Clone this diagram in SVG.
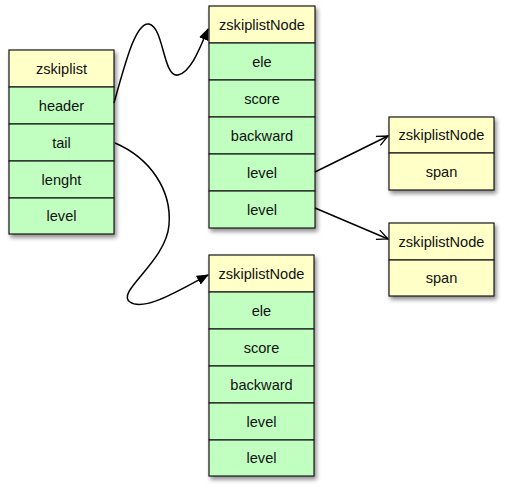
<svg xmlns="http://www.w3.org/2000/svg" width="509" height="493" viewBox="0 0 509 493">
<defs>
<filter id="sh" x="-10%" y="-10%" width="130%" height="130%">
<feDropShadow dx="2" dy="3" stdDeviation="2" flood-color="#000" flood-opacity="0.45"/>
</filter>
<marker id="fill" markerWidth="12" markerHeight="10" refX="11" refY="5" orient="auto" markerUnits="userSpaceOnUse">
<path d="M0,0 L12,5 L0,10 Z" fill="#000"/>
</marker>
<marker id="open" markerWidth="14" markerHeight="12" refX="12" refY="6" orient="auto" markerUnits="userSpaceOnUse">
<path d="M1,1 L12,6 L1,11" fill="none" stroke="#000" stroke-width="1.3"/>
</marker>
</defs>
<style>
.y{fill:#FFFFC8;stroke:#1a1a1a;stroke-width:1.2}
.g{fill:#C0FFC0;stroke:#1a1a1a;stroke-width:1.2}
.box{filter:url(#sh)}
text{font-family:"Liberation Sans",Arial,sans-serif;font-size:14.6px;fill:#111;text-anchor:middle;dominant-baseline:central}
.c{fill:none;stroke:#000;stroke-width:1.5}
</style>
<rect width="509" height="493" fill="#fff"/>

<g id="zskiplist">
<g class="box">
<rect class="y" x="9" y="50" width="105" height="37"/>
<rect class="g" x="9" y="87" width="105" height="37"/>
<rect class="g" x="9" y="124" width="105" height="37"/>
<rect class="g" x="9" y="161" width="105" height="37"/>
<rect class="g" x="9" y="198" width="105" height="36"/>
</g>
<text x="61.5" y="68.5">zskiplist</text>
<text x="61.5" y="105.5">header</text>
<text x="61.5" y="142.5">tail</text>
<text x="61.5" y="179.5">lenght</text>
<text x="61.5" y="216">level</text>
</g>

<g id="node1">
<g class="box">
<rect class="y" x="209" y="6" width="106" height="37"/>
<rect class="g" x="209" y="43" width="106" height="37"/>
<rect class="g" x="209" y="80" width="106" height="37"/>
<rect class="g" x="209" y="117" width="106" height="37"/>
<rect class="g" x="209" y="154" width="106" height="37"/>
<rect class="g" x="209" y="191" width="106" height="37"/>
</g>
<text x="262" y="24.5">zskiplistNode</text>
<text x="262" y="61.5">ele</text>
<text x="262" y="98.5">score</text>
<text x="262" y="135.5">backward</text>
<text x="262" y="172.5">level</text>
<text x="262" y="209.5">level</text>
</g>

<g id="node2">
<g class="box">
<rect class="y" x="209" y="255" width="105" height="37"/>
<rect class="g" x="209" y="292" width="105" height="37"/>
<rect class="g" x="209" y="329" width="105" height="37"/>
<rect class="g" x="209" y="366" width="105" height="37"/>
<rect class="g" x="209" y="403" width="105" height="37"/>
<rect class="g" x="209" y="440" width="105" height="36"/>
</g>
<text x="261.5" y="273.5">zskiplistNode</text>
<text x="261.5" y="310.5">ele</text>
<text x="261.5" y="347.5">score</text>
<text x="261.5" y="384.5">backward</text>
<text x="261.5" y="421.5">level</text>
<text x="261.5" y="458">level</text>
</g>

<g id="level1">
<g class="box">
<rect class="y" x="389" y="117" width="105" height="36"/>
<rect class="y" x="389" y="153" width="105" height="37"/>
</g>
<text x="441.5" y="135">zskiplistNode</text>
<text x="441.5" y="171.5">span</text>
</g>

<g id="level2">
<g class="box">
<rect class="y" x="389" y="223" width="105" height="37"/>
<rect class="y" x="389" y="260" width="105" height="36"/>
</g>
<text x="441.5" y="241.5">zskiplistNode</text>
<text x="441.5" y="278">span</text>
</g>

<g id="connectors">
<path class="c" d="M114,103 C126,60 136,22 149,24 C164,27 163,78 178,75 C191,72 200,48 208,29" marker-end="url(#fill)"/>
<path class="c" d="M115,143 C150,158 172,190 169,225 C166,262 115,292 130,302 C144,312 180,290 208,275" marker-end="url(#fill)"/>
<path class="c" d="M315,172 L388,136" marker-end="url(#open)"/>
<path class="c" d="M315,208 L388,239" marker-end="url(#open)"/>
</g>
</svg>
